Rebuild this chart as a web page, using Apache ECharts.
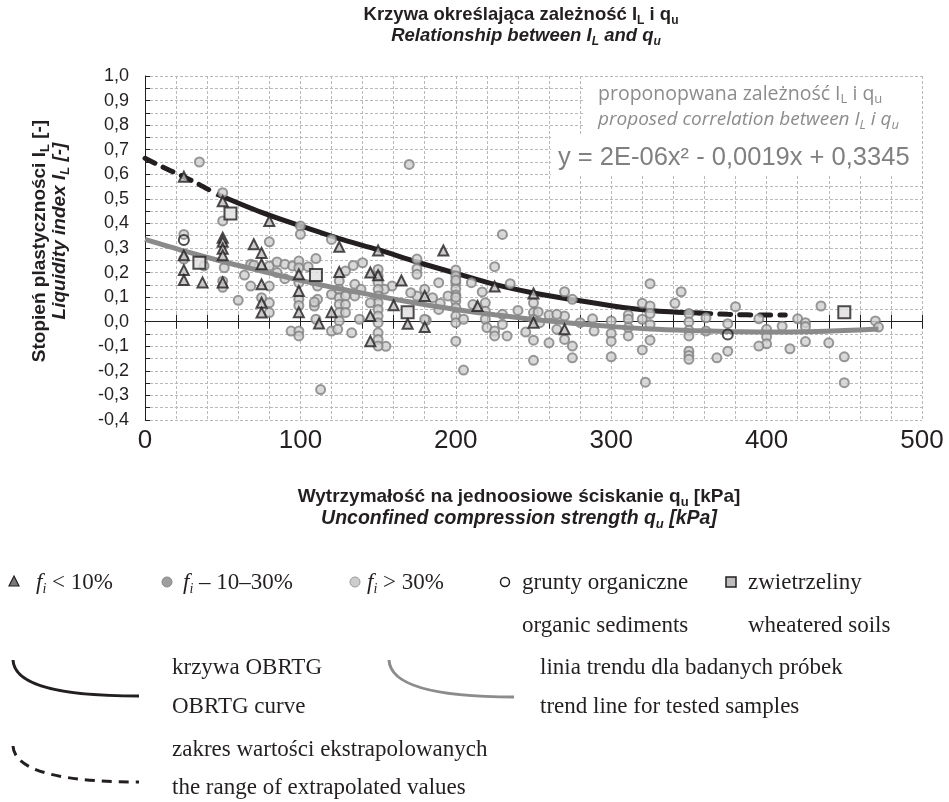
<!DOCTYPE html>
<html><head><meta charset="utf-8">
<script src="https://cdn.jsdelivr.net/npm/echarts@6/dist/echarts.min.js"></script>
<style>html,body{margin:0;padding:0;background:#fff}#chart{width:949px;height:802px}</style>
</head><body><div id="chart"></div>
<script>
// ---------- DATA ----------
const xTicks = [0, 100, 200, 300, 400, 500];
const yRange = [-0.4, 1.0];

// f_i < 10% (triangles)
const trianglePoints = [
  [25,0.59],[50,0.49],[80,0.41],[125,0.305],[50,0.342],[50,0.325],[50,0.297],[50,0.27],[50,0.16],
  [25,0.27],[25,0.21],[25,0.17],[37,0.16],[70,0.315],[75,0.28],[75,0.234],[75,0.152],[75,0.077],[75,0.037],
  [99,0.193],[99,0.125],[99,0.039],[112,-0.007],[120,0.039],[125,0.202],[192,0.29],[150,0.29],[225,0.143],
  [214,0.064],[250,0.115],[250,-0.004],[180,0.105],[180,-0.022],[169,-0.008],[165,0.168],[160,0.067],
  [150,0.189],[145,0.2],[145,0.023],[145,-0.079],[270,-0.031]
];
// grey circles (f_i 10–30% and > 30%)
const circlePoints = [
  [35,0.65],[50,0.525],[50,0.41],[100,0.39],[100,0.356],[120,0.335],[25,0.355],[25,0.255],[38,0.227],[51,0.22],
  [50,0.165],[50,0.14],[80,0.325],[75,0.098],[80,0.077],[80,0.037],[80,0.145],[80,0.227],[60,0.087],[64,0.19],
  [68,0.234],[68,0.145],[85,0.243],[90,0.234],[95,0.227],[99,0.247],[99,0.22],[105,0.224],[110,0.257],[85,0.2],
  [90,0.175],[99,0.159],[99,0.091],[99,0.066],[94,-0.038],[99,-0.038],[99,-0.058],[111,0.145],[111,0.091],
  [109,0.064],[110,0.01],[113,-0.276],[120,0.111],[120,-0.038],[125,0.166],[125,0.132],[125,0.098],[125,0.071],
  [125,0.037],[125,0.003],[124,-0.031],[70,0.23],[109,0.08],[181,0.006],
  [170,0.64],[230,0.355],[175,0.255],[175,0.216],[175,0.193],[200,0.21],[200,0.186],[200,0.159],[200,0.134],
  [200,0.109],[200,0.084],[200,0.057],[200,0.023],[200,-0.004],[200,-0.079],[205,-0.197],[225,0.224],[235,0.155],
  [210,0.159],[217,0.121],[211,0.07],[219,0.077],[219,0.043],[219,0.01],[220,-0.024],[225,-0.038],[225,-0.058],
  [230,-0.011],[230,0.03],[233,-0.058],[240,0.046],[245,-0.042],[250,-0.075],[250,-0.157],[250,0.077],[250,0.037],
  [250,0.01],[205,0.01],[195,0.105],[189,0.159],[189,0.05],[185,0.098],[180,0.01],[180,0.132],[175,0.105],
  [171,0.118],[159,0.145],[154,0.132],[155,-0.1],[150,0.213],[150,0.186],[150,0.159],[150,0.132],[150,0.105],
  [150,0.077],[150,0.05],[150,0.023],[150,-0.004],[150,-0.045],[150,-0.072],[150,-0.099],[145,0.077],[140,0.24],
  [134,0.229],[129,0.206],[135,0.152],[139,0.132],[129,0.105],[129,0.07],[129,0.037],[133,-0.045],[138,0.01],
  [135,0.105],[200,0.169],[200,0.1],[190,0.075],[253,0.04],
  [325,0.155],[345,0.122],[270,0.122],[275,0.091],[341,0.075],[320,0.075],[325,0.064],[325,0.033],[320,0.01],
  [325,-0.011],[325,-0.075],[320,-0.115],[322,-0.246],[350,0.033],[350,-0.001],[350,-0.035],[350,-0.058],
  [350,-0.12],[350,-0.137],[350,-0.153],[361,0.016],[361,-0.038],[375,-0.008],[375,-0.12],[368,-0.147],
  [311,0.027],[311,0.01],[311,-0.024],[311,-0.058],[300,0.003],[300,-0.048],[300,-0.079],[300,-0.143],
  [289,-0.038],[288,0.012],[280,-0.004],[275,-0.099],[275,-0.147],[270,-0.072],[270,0.023],[260,-0.086],
  [260,0.027],[265,0.03],[265,-0.031],[254,-0.004],
  [380,0.061],[395,0.012],[400,-0.031],[400,-0.061],[400,-0.09],[395,-0.099],[410,-0.018],[415,-0.11],
  [420,0.012],[425,-0.004],[425,-0.02],[425,-0.081],[435,0.064],[440,-0.086],[450,-0.143],[450,-0.248],
  [470,0.003],[472,-0.022]
];
// organic sediments (open circles)
const organicPoints = [[25,0.333],[375,-0.052]];
// weathered soils (squares)
const squarePoints = [[55,0.44],[35,0.24],[110,0.19],[169,0.039],[450,0.039]];

// OBRTG curve: extrapolated (dashed) parts and main (solid) part
const obrtgLow  = [[0,0.665],[12,0.628],[25,0.59],[35,0.558],[46,0.52]];
const obrtgMain = [[46,0.52],[75,0.445],[100,0.39],[125,0.338],[150,0.293],[175,0.243],[200,0.197],[225,0.152],
                   [250,0.117],[275,0.09],[300,0.065],[325,0.046],[357,0.035]];
const obrtgHigh = [[357,0.035],[375,0.03],[400,0.027],[412,0.027]];
// trend line for tested samples
const trendLine = [[0,0.335],[25,0.288],[50,0.245],[75,0.206],[100,0.168],[125,0.134],[150,0.104],[175,0.075],
                   [200,0.05],[225,0.028],[250,0.009],[275,-0.006],[300,-0.02],[325,-0.03],[350,-0.036],
                   [375,-0.04],[400,-0.042],[425,-0.041],[450,-0.036],[472,-0.03]];

// ---------- CHART ----------
const chart = echarts.init(document.getElementById('chart'), null, {renderer:'canvas'});
const INK = '#231f20';
const GRIDC = '#b9b9b9';
const SANS = 'Liberation Sans';
const SERIF = 'Liberation Serif';
const fmtY = v => (Math.abs(v) < 1e-9 ? '0,0' : v.toFixed(1).replace('.', ','));

function subRich(family, size, weight, style, color) {
  return {
    a: {fontFamily: family, fontSize: size, fontWeight: weight, fontStyle: style, fill: color, color: color, lineHeight: size + 4},
    s: {fontFamily: family, fontSize: Math.round(size * 0.66), fontWeight: weight, fontStyle: style, fill: color, color: color,
        lineHeight: Math.round(size * 0.66), verticalAlign: 'bottom'},
    i: {fontFamily: family, fontSize: size, fontStyle: 'italic', fill: color, color: color, lineHeight: size + 4},
    is: {fontFamily: family, fontSize: Math.round(size * 0.62), fontStyle: 'italic', fill: color, color: color,
         lineHeight: Math.round(size * 0.62), verticalAlign: 'bottom'}
  };
}
function txt(x, y, text, rich, align, extra) {
  return Object.assign({
    type: 'text', x: x, y: y, z: 10,
    style: {text: text, rich: rich, align: align || 'center', verticalAlign: 'middle',
            textAlign: align || 'center', textVerticalAlign: 'middle'}
  }, extra || {});
}
const legendRich = subRich(SERIF, 23, 'normal', 'normal', INK);

const graphics = [
  // title
  txt(521, 15, '{a|Krzywa określająca zależność I}{s|L}{a| i q}{s|u}', subRich(SANS, 18.5, 'bold', 'normal', INK)),
  txt(526, 36, '{a|Relationship between I}{s|L}{a| and q}{s|u}', subRich(SANS, 18.5, 'bold', 'italic', INK)),
  // x axis name
  txt(519, 497, '{a|Wytrzymałość na jednoosiowe ściskanie q}{s|u}{a| [kPa]}', subRich(SANS, 19, 'bold', 'normal', INK)),
  txt(519, 519, '{a|Unconfined compression strength q}{s|u}{a| [kPa]}', subRich(SANS, 19.5, 'bold', 'italic', INK)),
  // y axis name
  txt(40, 241, '{a|Stopień plastyczności I}{s|L}{a| [-]}', subRich(SANS, 19, 'bold', 'normal', INK), 'center', {rotation: Math.PI / 2}),
  txt(60, 231, '{a|Liquidity index I}{s|L}{a| [-]}', subRich(SANS, 19, 'bold', 'italic', INK), 'center', {rotation: Math.PI / 2}),
  // white boxes behind annotation
  {type: 'rect', z: 1, shape: {x: 584, y: 77, width: 338, height: 58}, style: {fill: '#ffffff'}},
  {type: 'rect', z: 1, shape: {x: 551, y: 135, width: 371, height: 41}, style: {fill: '#ffffff'}},
  txt(598, 94, '{a|proponopwana zależność I}{s|L}{a| i q}{s|u}', subRich('Open Sans', 19.5, 'normal', 'normal', '#8c8c8c'), 'left'),
  txt(598, 120, '{a|proposed correlation between I}{s|L}{a| i q}{s|u}', subRich('Open Sans', 19, 'normal', 'italic', '#8c8c8c'), 'left'),
  {type: 'text', z: 10, x: 558, y: 158, style: {text: 'y = 2E-06x² - 0,0019x + 0,3345', fontFamily: SANS, fontSize: 25.5,
    fill: '#808080', align: 'left', verticalAlign: 'middle', textAlign: 'left', textVerticalAlign: 'middle'}},
  // ---- bottom legend ----
  {type: 'polygon', z: 10, shape: {points: [[14, 576], [19, 586], [9, 586]]}, style: {fill: '#7a7a7a', stroke: INK, lineWidth: 1.2}},
  txt(36, 583, '{i|f}{is|i}{a| < 10%}', legendRich, 'left'),
  {type: 'circle', z: 10, shape: {cx: 167, cy: 582, r: 5}, style: {fill: '#9e9e9e', stroke: '#8a8a8a', lineWidth: 1}},
  txt(183, 583, '{i|f}{is|i}{a| – 10–30%}', legendRich, 'left'),
  {type: 'circle', z: 10, shape: {cx: 355, cy: 582, r: 5}, style: {fill: '#cdcdcd', stroke: '#9a9a9a', lineWidth: 1}},
  txt(367, 583, '{i|f}{is|i}{a| > 30%}', legendRich, 'left'),
  {type: 'circle', z: 10, shape: {cx: 505, cy: 582, r: 4.5}, style: {fill: 'none', stroke: INK, lineWidth: 1.5}},
  txt(522, 583, '{a|grunty organiczne}', legendRich, 'left'),
  txt(522, 626, '{a|organic sediments}', legendRich, 'left'),
  {type: 'rect', z: 10, shape: {x: 726, y: 577, width: 10, height: 10}, style: {fill: '#bdbdbd', stroke: INK, lineWidth: 1.5}},
  txt(748, 583, '{a|zwietrzeliny}', legendRich, 'left'),
  txt(748, 626, '{a|wheatered soils}', legendRich, 'left'),
  {type: 'bezierCurve', z: 10, shape: {x1: 13, y1: 660, cpx1: 14, cpy1: 681, cpx2: 45, cpy2: 696, x2: 139, y2: 696},
   style: {stroke: INK, lineWidth: 3, fill: 'none'}},
  txt(172, 668, '{a|krzywa OBRTG}', legendRich, 'left'),
  txt(172, 707, '{a|OBRTG curve}', legendRich, 'left'),
  {type: 'bezierCurve', z: 10, shape: {x1: 389, y1: 660, cpx1: 390, cpy1: 681, cpx2: 421, cpy2: 697, x2: 514, y2: 697},
   style: {stroke: '#8c8c8c', lineWidth: 3, fill: 'none'}},
  txt(540, 668, '{a|linia trendu dla badanych próbek}', legendRich, 'left'),
  txt(540, 707, '{a|trend line for tested samples}', legendRich, 'left'),
  {type: 'bezierCurve', z: 10, shape: {x1: 13, y1: 746, cpx1: 14, cpy1: 766, cpx2: 45, cpy2: 782, x2: 139, y2: 782},
   style: {stroke: INK, lineWidth: 3, fill: 'none', lineDash: [10, 7]}},
  txt(172, 750, '{a|zakres wartości ekstrapolowanych}', legendRich, 'left'),
  txt(172, 788, '{a|the range of extrapolated values}', legendRich, 'left')
];

const dashed = {color: INK, width: 5, type: [11, 9], cap: 'round'};
const option = {
  animation: false,
  backgroundColor: '#ffffff',
  grid: {left: 145, top: 76, width: 777, height: 344, containLabel: false},
  xAxis: [
    {type: 'value', min: xTicks[0], max: xTicks[xTicks.length - 1], interval: 100, position: 'bottom',
     axisLine: {show: false, onZero: false}, axisTick: {show: false},
     axisLabel: {fontFamily: SANS, fontSize: 26, color: INK, margin: 8},
     splitLine: {show: true, lineStyle: {color: GRIDC, type: [3, 2], width: 1}},
     minorTick: {show: false, splitNumber: 5},
     minorSplitLine: {show: true, lineStyle: {color: GRIDC, type: [3, 2], width: 1}}},
    {type: 'value', min: 0, max: 500, interval: 20, position: 'bottom',
     axisLine: {show: true, onZero: true, onZeroAxisIndex: 0, lineStyle: {color: INK, width: 1}},
     axisTick: {show: true, inside: false, length: 7, lineStyle: {color: INK, width: 1}},
     axisLabel: {show: false}, splitLine: {show: false}},
    {type: 'value', min: 0, max: 500, interval: 20, position: 'bottom',
     axisLine: {show: false, onZero: true, onZeroAxisIndex: 0},
     axisTick: {show: true, inside: true, length: 7, lineStyle: {color: INK, width: 1}},
     axisLabel: {show: false}, splitLine: {show: false}}
  ],
  yAxis: {type: 'value', min: yRange[0], max: yRange[1], interval: 0.1,
    axisLine: {show: true, onZero: false, lineStyle: {color: INK, width: 1}},
    axisTick: {show: true, inside: true, length: 5, lineStyle: {color: INK}},
    minorTick: {show: true, splitNumber: 2, length: 5, lineStyle: {color: INK}},
    axisLabel: {formatter: fmtY, fontFamily: SANS, fontSize: 18, color: INK, margin: 16},
    splitLine: {show: true, lineStyle: {color: GRIDC, type: [3, 2], width: 1}},
    minorSplitLine: {show: true, lineStyle: {color: GRIDC, type: [3, 2], width: 1}}},
  series: [
    {name: 'zakres wartości ekstrapolowanych', type: 'line', data: obrtgLow, smooth: 0.3, showSymbol: false, z: 2, lineStyle: dashed},
    {name: 'krzywa OBRTG', type: 'line', data: obrtgMain, smooth: 0.3, showSymbol: false, z: 2, lineStyle: {color: INK, width: 5}},
    {name: 'zakres wartości ekstrapolowanych (2)', type: 'line', data: obrtgHigh, smooth: 0.3, showSymbol: false, z: 2, lineStyle: dashed},
    {name: 'fi > 30%', type: 'scatter', data: circlePoints, symbol: 'circle', symbolSize: 9, z: 3,
     itemStyle: {color: '#d0d0d0', borderColor: '#7f7f7f', borderWidth: 2}},
    {name: 'linia trendu', type: 'line', data: trendLine, smooth: 0.3, showSymbol: false, z: 4,
     lineStyle: {color: '#8a8a8a', width: 5}},
    {name: 'fi < 10%', type: 'scatter', data: trianglePoints, symbol: 'triangle', symbolSize: 10, z: 5,
     itemStyle: {color: '#bdbdbd', borderColor: INK, borderWidth: 2}},
    {name: 'grunty organiczne', type: 'scatter', data: organicPoints, symbol: 'circle', symbolSize: 10, z: 5,
     itemStyle: {color: 'rgba(255,255,255,0)', borderColor: INK, borderWidth: 2}},
    {name: 'zwietrzeliny', type: 'scatter', data: squarePoints, symbol: 'rect', symbolSize: 12, z: 5,
     itemStyle: {color: '#dedede', borderColor: INK, borderWidth: 2}}
  ],
  graphic: graphics
};
chart.setOption(option);
</script>
</body></html>
